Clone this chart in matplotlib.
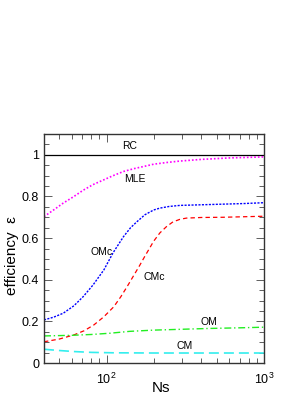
import matplotlib
matplotlib.use("Agg")
import matplotlib.pyplot as plt
from matplotlib.ticker import FixedLocator, MultipleLocator, LogLocator, NullFormatter

plt.rcParams['font.family'] = ['Liberation Sans', 'DejaVu Sans']

ns_rc = [40, 1000]
eff_rc = [1.0, 1.0]

ns_mle = [40, 46, 53, 62, 71, 82, 96, 110, 128, 150, 172, 199, 240, 292, 400, 600, 1000]
eff_mle = [0.703, 0.735, 0.768, 0.80, 0.83, 0.857, 0.88, 0.90, 0.92, 0.934, 0.944, 0.955, 0.963, 0.97, 0.978, 0.985, 0.99]

ns_omc = [40, 46, 53, 62, 71, 82, 96, 110, 128, 142, 156, 175, 199, 218, 250, 292, 400, 548, 750, 1000]
eff_omc = [0.207, 0.22, 0.239, 0.275, 0.319, 0.375, 0.447, 0.53, 0.607, 0.65, 0.679, 0.712, 0.735, 0.744, 0.752, 0.757, 0.76, 0.763, 0.766, 0.77]

ns_cmc = [40, 50, 62, 72, 83, 96, 111, 123, 135, 148, 162, 175, 188, 199, 218, 240, 264, 292, 321, 400, 548, 1000]
eff_cmc = [0.102, 0.115, 0.135, 0.155, 0.183, 0.222, 0.27, 0.318, 0.367, 0.418, 0.468, 0.513, 0.553, 0.585, 0.625, 0.655, 0.678, 0.69, 0.696, 0.699, 0.70, 0.705]

ns_om = [40, 60, 80, 105, 140, 200, 300, 450, 700, 1000]
eff_om = [0.13, 0.133, 0.137, 0.143, 0.152, 0.158, 0.162, 0.166, 0.169, 0.172]

ns_cm = [40, 50, 62, 80, 110, 200, 500, 1000]
eff_cm = [0.066, 0.06, 0.055, 0.051, 0.049, 0.048, 0.048, 0.048]

labels = ['RC', 'MLE', 'OMc', 'CMc', 'OM', 'CM']
label_ns = [140, 150, 93, 202, 447, 314]
label_eff = [1.04, 0.883, 0.535, 0.415, 0.198, 0.08]

fig = plt.figure(figsize=(3.08, 3.99), dpi=100)
ax = fig.add_axes([44/308, 36/399, 220/308, 229/399])

ax.plot(ns_rc, eff_rc, color='black', lw=0.9, ls='-')
ax.plot(ns_mle, eff_mle, color='#ff00ff', lw=1.2, ls=(0, (1, 1.2)))
ax.plot(ns_omc, eff_omc, color='#0000ff', lw=1.0, ls=(0, (1.5, 1)))
ax.plot(ns_cmc, eff_cmc, color='#ff0000', lw=0.9, ls=(0, (3.5, 2.5)))
ax.plot(ns_om, eff_om, color='#22ee22', lw=1.0, ls=(0, (5, 2, 1, 2)))
ax.plot(ns_cm, eff_cm, color='#33eeee', lw=1.2, ls=(0, (6, 3)))

for t, x, y in zip(labels, label_ns, label_eff):
    ax.text(x, y, t, fontsize=7.5, ha='center', va='center')

ax.set_xscale('log')
ax.set_xlim(40, 1000)
ax.set_ylim(0, 1.1)
ax.xaxis.set_major_locator(FixedLocator([100, 1000]))
ax.xaxis.set_minor_locator(LogLocator(base=10, subs=range(2, 10)))
ax.xaxis.set_minor_formatter(NullFormatter())
ax.set_xticklabels([r'$\mathregular{10^2}$', r'$\mathregular{10^3}$'])
ax.yaxis.set_major_locator(FixedLocator([0, 0.2, 0.4, 0.6, 0.8, 1.0]))
ax.set_yticklabels(['0', '0.2', '0.4', '0.6', '0.8', '1'])
ax.yaxis.set_minor_locator(MultipleLocator(0.05))
ax.tick_params(which='both', direction='in', top=True, right=True, labelsize=9, width=0.6, colors='#444444', labelcolor='black')
ax.tick_params(which='major', length=6)
ax.tick_params(which='minor', length=3.5)
ax.tick_params(axis='x', pad=6)
for s in ax.spines.values():
    s.set_linewidth(1.0)
    s.set_color('#333333')

fig.text(12/308, 1 - 256/399, 'efficiency  ε', rotation=90, fontsize=11, ha='center', va='center')
fig.text(161/308, 1 - 388/399, 'Ns', fontsize=11, ha='center', va='center')

fig.savefig('out.png', dpi=100)
